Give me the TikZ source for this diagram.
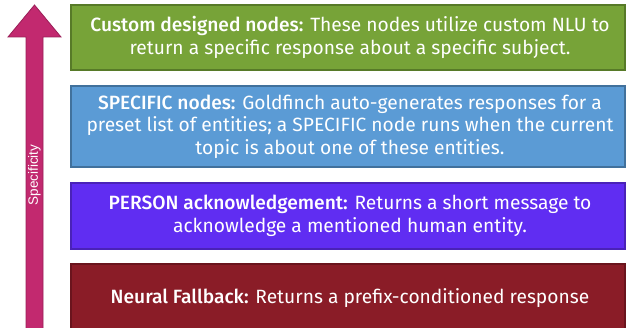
\documentclass[tikz,border=0pt]{standalone}
\usepackage{fontspec}
\setmainfont{Fira Sans}[BoldFont={Fira Sans Medium}]
\newfontfamily\arialfont{Liberation Sans}
\definecolor{gfill}{HTML}{77A338}
\definecolor{gdraw}{HTML}{577A28}
\definecolor{bfill}{HTML}{5B9BD5}
\definecolor{bdraw}{HTML}{41719C}
\definecolor{pfill}{HTML}{602DF2}
\definecolor{pdraw}{HTML}{4A22B8}
\definecolor{rfill}{HTML}{8A1C27}
\definecolor{rdraw}{HTML}{6A141D}
\definecolor{afill}{HTML}{C2296F}
\definecolor{adraw}{HTML}{9A1F58}
\tikzset{
  tier/.style={line width=1.2pt},
  tiertext/.style={text=white, align=center, font=\fontsize{19.2}{22.5}\selectfont, inner sep=0pt}
}
\begin{document}
\begin{tikzpicture}[x=1pt,y=1pt]
\useasboundingbox (0,0) rectangle (626,328);
% arrow
\draw[fill=afill, draw=adraw, line width=0.8pt]
  (26,-10) -- (26,291) -- (8,291) -- (34.5,323) -- (61,291) -- (43,291) -- (43,-10) -- cycle;
\node[rotate=90, text=white, font=\arialfont\fontsize{13.5}{15}\selectfont, inner sep=0pt] (lab) at (34.5,153) {Specificity};
% boxes
\draw[tier, fill=gfill, draw=gdraw] (71,323) rectangle (625,258);
\node[tiertext] (g) at (350,290.5) {\textbf{Custom designed nodes:} These nodes utilize custom NLU to\\return a specific response about a specific subject.};
\draw[tier, fill=bfill, draw=bdraw] (71,242) rectangle (625,161);
\node[tiertext] (b) at (350,201.5) {\textbf{SPECIFIC nodes:} Goldfinch auto-generates responses for a\\preset list of entities; a SPECIFIC node runs when the current\\topic is about one of these entities.};
\draw[tier, fill=pfill, draw=pdraw] (71,145) rectangle (625,79);
\node[tiertext] (p) at (350,112) {\textbf{PERSON acknowledgement:} Returns a short message to\\acknowledge a mentioned human entity.};
\draw[tier, fill=rfill, draw=rdraw] (71,64) rectangle (625,-10);
\node[tiertext] (r) at (350,29.5) {\textbf{Neural Fallback:} Returns a prefix-conditioned response};
\end{tikzpicture}
\end{document}
